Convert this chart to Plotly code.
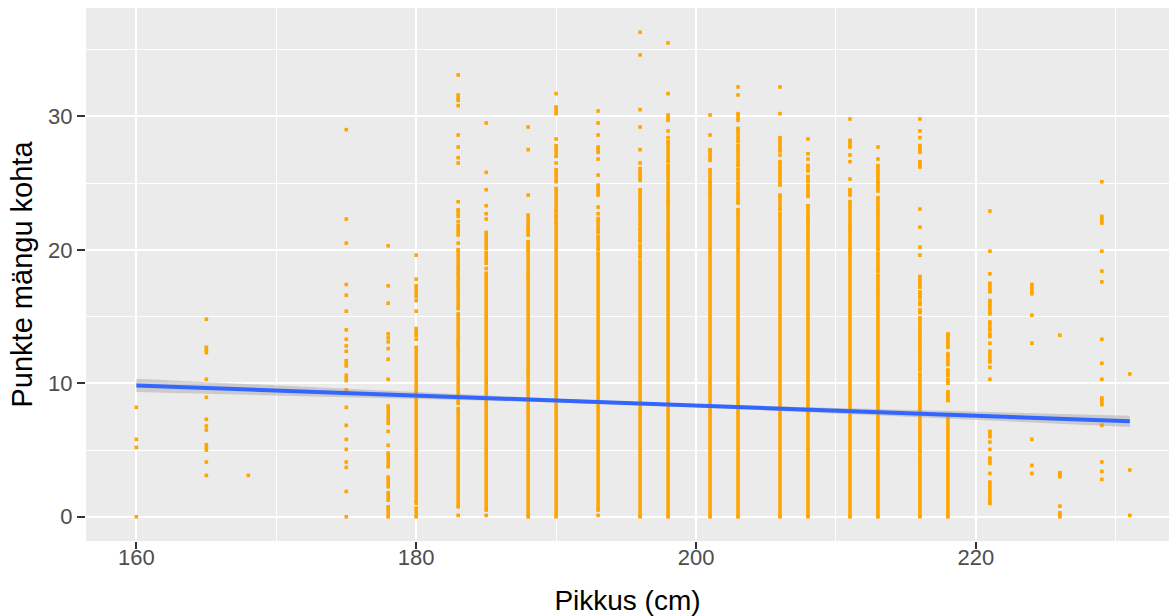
import plotly.graph_objects as go

# ---- data ----
heights = [160, 165, 168, 175, 178, 180, 183, 185, 188, 190, 193, 196, 198,
           201, 203, 206, 208, 211, 213, 216, 218, 221, 224, 226, 229, 231]

# isolated points per height column
single_points = [
    [8.2, 5.8, 5.2, 0.0],
    [14.8, 12.7, 12.5, 12.3, 10.3, 8.95, 7.3, 6.8, 6.5, 5.4, 5.2, 5.0, 4.1, 3.1],
    [3.1],
    [29.0, 22.3, 20.5, 17.4, 16.6, 15.4, 14.0, 13.3, 12.8, 12.4, 11.7, 11.5, 11.3,
     10.6, 10.4, 10.2, 9.5, 8.2, 6.85, 5.8, 5.05, 4.1, 3.7, 1.9, 0.0],
    [20.3, 17.3, 16.0, 13.7, 13.4, 13.1, 12.6, 11.8, 10.3, 6.4, 5.35],
    [19.6, 17.8, 16.2, 15.4, 13.3],
    [33.1, 30.8, 28.6, 27.7, 26.9, 26.5, 23.6, 22.1, 20.5, 0.1],
    [29.5, 25.8, 24.5, 23.3, 22.7, 22.3, 18.6, 0.1],
    [29.2, 27.5, 24.1],
    [31.7, 28.3, 26.5],
    [30.4, 29.5, 28.6, 26.8, 25.6, 23.2, 22.7, 0.1],
    [36.3, 34.6, 30.5, 29.2, 27.5, 26.5],
    [35.5, 31.7, 28.9, 28.4],
    [30.1, 28.6],
    [32.2, 31.6],
    [32.2, 30.2, 27.1],
    [28.3, 27.2, 26.8],
    [29.8, 27.1, 26.6, 25.3],
    [27.7, 26.8],
    [29.8, 28.9, 28.4, 23.05, 21.7, 20.2, 19.6],
    [],
    [22.9, 19.9, 18.2, 13.0, 11.2, 10.3, 5.6, 5.05, 3.25],
    [15.1, 13.0, 5.8, 3.85, 3.25],
    [13.6, 0.8],
    [25.1, 19.9, 18.4, 17.6, 13.3, 11.5, 10.3, 6.85, 4.1, 3.4, 2.8],
    [10.7, 3.5, 0.1],
]

# runs of densely packed points per height column (lowest, highest value)
dense_runs = [
    [],
    [],
    [],
    [],
    [(7.0, 8.3), (3.75, 4.77), (2.25, 2.97), (1.25, 1.8), (0.0, 0.75)],
    [(16.5, 17.3), (13.6, 14.1), (9.4, 12.7), (1.5, 9.3), (1.0, 1.25), (0.0, 0.65)],
    [(31.2, 31.6), (22.5, 23.0), (21.1, 21.8), (18.6, 20.0), (17.4, 18.35),
     (15.6, 17.2), (13.1, 15.2), (8.5, 12.9), (0.75, 8.1)],
    [(20.1, 21.3), (19.0, 19.8), (0.5, 18.25)],
    [(21.7, 22.6), (21.1, 21.5), (20.2, 20.6), (18.1, 20.0), (11.1, 17.9), (0.0, 10.9)],
    [(30.2, 30.7), (27.0, 27.8), (25.1, 26.0), (22.85, 24.6), (22.35, 22.6), (0.0, 22.1)],
    [(27.3, 27.7), (24.1, 24.85), (21.3, 22.35), (20.0, 21.0), (0.5, 19.7)],
    [(25.2, 26.1), (23.7, 24.5), (23.1, 23.5), (21.85, 22.85), (21.2, 21.6),
     (20.6, 21.0), (19.4, 20.3), (0.0, 19.1)],
    [(29.7, 30.1), (26.6, 28.1), (25.9, 26.3), (23.6, 25.7), (21.2, 23.5), (0.0, 21.0)],
    [(26.7, 27.5), (25.0, 26.0), (24.4, 24.8), (0.0, 24.2)],
    [(29.7, 30.2), (28.1, 29.1), (26.3, 27.8), (25.3, 26.0), (24.1, 25.0),
     (23.5, 23.9), (0.0, 23.0)],
    [(27.4, 28.4), (26.0, 26.6), (24.85, 25.8), (23.0, 24.1), (0.0, 22.7)],
    [(25.9, 26.3), (25.1, 25.5), (24.0, 24.8), (22.3, 23.3), (21.4, 22.1), (0.0, 21.2)],
    [(27.7, 28.2), (24.1, 24.5), (21.7, 23.6), (20.0, 21.5), (0.0, 19.8)],
    [(25.9, 26.3), (25.0, 25.7), (24.4, 24.8), (22.9, 23.9), (20.0, 22.7),
     (18.4, 19.7), (17.0, 18.1), (0.0, 16.8)],
    [(27.3, 27.8), (26.2, 26.6), (17.2, 18.0), (16.4, 16.85), (15.9, 16.1),
     (15.3, 15.5), (14.1, 14.9), (13.0, 13.9), (11.0, 12.8), (8.05, 10.7),
     (4.8, 7.8), (0.0, 4.55)],
    [(13.3, 13.7), (12.7, 13.1), (11.4, 12.2), (10.6, 11.0), (10.0, 10.3),
     (9.1, 9.36), (8.7, 8.9), (0.0, 7.5)],
    [(16.85, 17.5), (16.0, 16.2), (15.2, 15.8), (14.0, 14.6), (13.5, 13.7),
     (11.6, 12.4), (6.0, 6.4), (4.0, 4.4), (1.0, 2.6)],
    [(16.7, 17.4)],
    [(3.0, 3.3), (0.0, 0.3)],
    [(22.0, 22.5), (8.4, 8.9)],
    [],
]

# linear fit (geom_smooth, method = "lm") with its confidence band
fit_x = [160, 170, 180, 190, 200, 210, 220, 231]
fit_y = [9.84, 9.46, 9.08, 8.70, 8.32, 7.95, 7.57, 7.15]
fit_lo = [9.34, 9.09, 8.83, 8.56, 8.21, 7.75, 7.27, 6.73]
fit_hi = [10.34, 9.83, 9.33, 8.84, 8.43, 8.15, 7.87, 7.57]

x_ticks = [160, 180, 200, 220]
y_ticks = [0, 10, 20, 30]
x_title = "Pikkus (cm)"
y_title = "Punkte mängu kohta"

# ---- build traces ----
ORANGE = "#FFA500"
pt_x, pt_y = [], []
seg_x, seg_y = [], []
for h, pts, runs in zip(heights, single_points, dense_runs):
    for v in pts:
        pt_x.append(h)
        pt_y.append(v)
    for lo, hi in runs:
        seg_x += [h, h, None]
        seg_y += [lo, hi, None]
        pt_x += [h, h]
        pt_y += [lo, hi]

fig = go.Figure()
fig.add_trace(go.Scatter(x=seg_x, y=seg_y, mode="lines",
                         line=dict(color=ORANGE, width=3.6),
                         hoverinfo="skip", showlegend=False))
fig.add_trace(go.Scatter(x=pt_x, y=pt_y, mode="markers",
                         marker=dict(color=ORANGE, size=3.6, symbol="square",
                                     line=dict(width=0)),
                         showlegend=False))
fig.add_trace(go.Scatter(x=fit_x + fit_x[::-1], y=fit_hi + fit_lo[::-1],
                         fill="toself", fillcolor="rgba(153,153,153,0.4)",
                         line=dict(width=0), mode="lines",
                         hoverinfo="skip", showlegend=False))
fig.add_trace(go.Scatter(x=fit_x, y=fit_y, mode="lines",
                         line=dict(color="#3366FF", width=4),
                         showlegend=False))

FONT = "Liberation Sans, Arial, sans-serif"
fig.update_layout(
    width=1169, height=616,
    margin=dict(l=86, r=0, t=8, b=75, autoexpand=False),
    paper_bgcolor="white", plot_bgcolor="#EBEBEB",
    font=dict(family=FONT, color="#4D4D4D", size=22),
    showlegend=False,
)
fig.update_xaxes(
    automargin=False,
    range=[156.4, 233.8], tickvals=x_ticks, ticktext=[str(v) for v in x_ticks],
    showgrid=True, gridcolor="white", gridwidth=2,
    minor=dict(dtick=10, tick0=150, showgrid=True, gridcolor="white", gridwidth=1.1),
    zeroline=False, showline=False,
    ticks="outside", ticklen=7, tickwidth=1.5, tickcolor="#333333",
    ticklabelstandoff=-10,
    tickfont=dict(size=22, color="#4D4D4D", family=FONT),
    title=dict(text=x_title, font=dict(size=28, color="black", family=FONT), standoff=20),
)
fig.update_yaxes(
    automargin=False,
    range=[-1.815, 38.115], tickvals=y_ticks, ticktext=[str(v) for v in y_ticks],
    showgrid=True, gridcolor="white", gridwidth=2,
    minor=dict(dtick=10, tick0=5, showgrid=True, gridcolor="white", gridwidth=1.1),
    zeroline=False, showline=False,
    ticks="outside", ticklen=8, tickwidth=1.5, tickcolor="#333333",
    tickfont=dict(size=22, color="#4D4D4D", family=FONT),
    title=dict(text=y_title, font=dict(size=29, color="black", family=FONT), standoff=6),
)

fig.write_html(
    "out.html",
    config={"displayModeBar": False},
    post_script="document.body.style.margin='0';document.body.style.padding='0';"
                "document.body.style.overflow='hidden';",
)
